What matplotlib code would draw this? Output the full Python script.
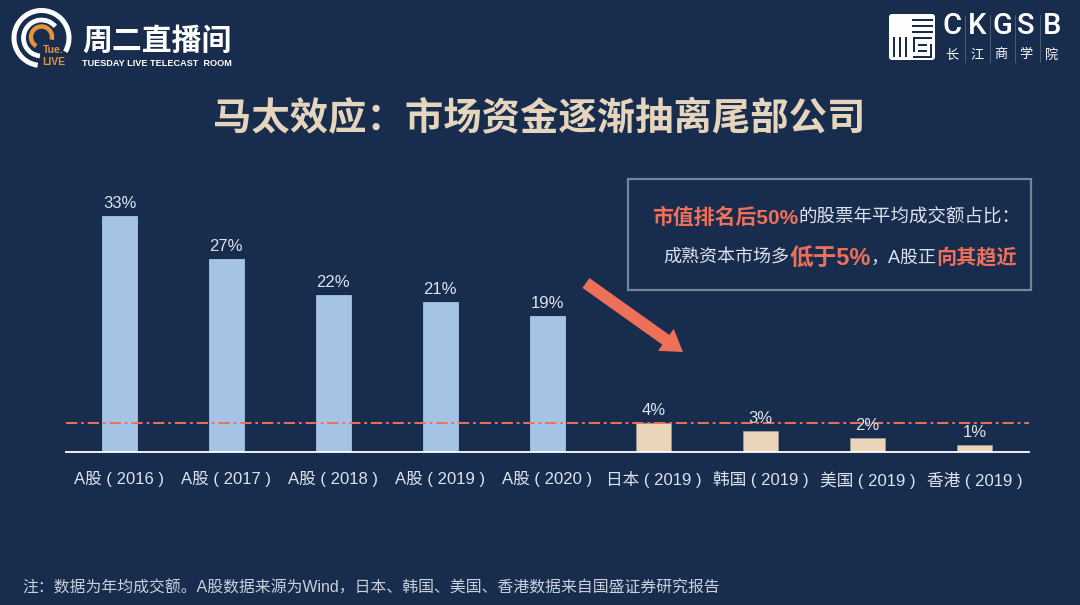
#!/usr/bin/env python3
import matplotlib
matplotlib.use("Agg")
import matplotlib.pyplot as plt
from matplotlib.patches import Arc, FancyArrow, FancyBboxPatch, Rectangle

plt.rcParams['font.family'] = ['Liberation Sans', 'Noto Sans CJK SC', 'DejaVu Sans']

W, H = 1080, 605
BG = "#182C4E"
ORANGE = "#EF7059"
LIGHT = "#DCE3EC"

# chart data
markets = ["A股 ( 2016 )", "A股 ( 2017 )", "A股 ( 2018 )", "A股 ( 2019 )", "A股 ( 2020 )",
           "日本 ( 2019 )", "韩国 ( 2019 )", "美国 ( 2019 )", "香港 ( 2019 )"]
shares = [33, 27, 22, 21, 19, 4, 3, 2, 1]
bar_colors = ["#A5C3E5"] * 5 + ["#EBD5B9"] * 4
bar_edges = ["#A5C3E5"] * 5 + ["#9A9A98"] * 4
threshold = 4

title = "马太效应：市场资金逐渐抽离尾部公司"
note = "注：数据为年均成交额。A股数据来源为Wind，日本、韩国、美国、香港数据来自国盛证券研究报告"
line1 = [("市值排名后50%", ORANGE, 15, "bold"), ("的股票年平均成交额占比：", LIGHT, 13.3, "normal")]
line2 = [("成熟资本市场多", LIGHT, 13, "normal"), ("低于5%", ORANGE, 17, "bold"),
         ("，A股正", LIGHT, 13, "normal"), ("向其趋近", ORANGE, 14.5, "bold")]

fig = plt.figure(figsize=(W / 100, H / 100), dpi=100, facecolor=BG)

# pixel overlay for logos, title, callout; y runs up so arcs stay simple
ov = fig.add_axes([0, 0, 1, 1], facecolor=BG)
ov.set_xlim(0, W)
ov.set_ylim(0, H)
ov.axis("off")

# bar axes, placed so baseline and bar centres land on the reference pixels
left, right, base, top = 66, 1029, 452, 160
ax = fig.add_axes([left / W, (H - base) / H, (right - left) / W, (base - top) / H])
ax.patch.set_alpha(0)
step = 106.875
ax.set_xlim((left - 119.5) / step, (right - 119.5) / step)
ax.set_ylim(0, (base - top) / 7.15)
x = list(range(len(markets)))
ax.bar(x, shares, width=35 / step, color=bar_colors, edgecolor=bar_edges, linewidth=0.6, zorder=2)
ax.axhline(threshold, color=ORANGE, lw=1.4, linestyle=(0, (5.8, 2.0, 1.4, 2.0)), zorder=3)
for i, v in zip(x, shares):
    ax.text(i, v + 0.7, "%d%%" % v, ha="center", va="bottom", color=LIGHT, fontsize=12, zorder=4)
ax.set_xticks(x)
ax.set_xticklabels(markets, color=LIGHT, fontsize=12)
ax.tick_params(axis="x", length=0, pad=14)
ax.set_yticks([])
for name, s in ax.spines.items():
    s.set_visible(name == "bottom")
ax.spines["bottom"].set_color("white")
ax.spines["bottom"].set_linewidth(1.3)


def px(xp, yp, s, **kw):
    return ov.text(xp, H - yp, s, **kw)


px(539, 120, title, ha="center", va="center", color="#E6D5BD", fontsize=27.6, fontweight="bold")
px(22, 588, note, ha="left", va="center", color="#C9D1DC", fontsize=11.4)

# callout
ov.add_patch(Rectangle((628, H - 290), 403, 111, fill=False, edgecolor="#73879B", lw=1.6))


def draw_runs(x0, yp, runs):
    rend = fig.canvas.get_renderer()
    for s, col, size, weight in runs:
        t = px(x0, yp, s, ha="left", va="center_baseline", color=col, fontsize=size, fontweight=weight)
        x0 = t.get_window_extent(rend).x1


draw_runs(652, 216, line1)
draw_runs(663, 256, line2)

ov.add_patch(FancyArrow(586, H - 283, 97, -69, width=12, head_width=27, head_length=21,
                        length_includes_head=True, facecolor=ORANGE, edgecolor="none"))

# left logo
cx, cy = 41.5, H - 38
ov.add_patch(Arc((cx, cy), 55, 55, theta1=-30, theta2=262, color="white", lw=3.6))
ov.add_patch(Arc((cx, cy), 36, 36, theta1=40, theta2=265, color="white", lw=3.4))
ov.add_patch(Arc((cx, cy + 1), 21, 21, theta1=-15, theta2=240, color="#E3933A", lw=3.2))
px(53, 50, "Tue.", ha="center", va="center", color="#E3933A", fontsize=7.5, fontweight="bold")
px(54, 62, "LIVE", ha="center", va="center", color="#E3933A", fontsize=7.5, fontweight="bold")
px(157, 41, "周二直播间", ha="center", va="center", color="white", fontsize=21.5, fontweight="bold")
px(157, 63, "TUESDAY LIVE TELECAST  ROOM", ha="center", va="center", color="white", fontsize=6.6, fontweight="bold")

# right logo
ov.add_patch(FancyBboxPatch((889, H - 60), 46, 46, boxstyle="round,pad=0,rounding_size=3",
                            facecolor="white", edgecolor="none"))
for yy, x0, x1 in [(20, 912, 933), (26, 912, 933), (32, 912, 933), (38, 913, 932),
                   (45, 918, 927), (51, 918, 927), (57, 913, 932)]:
    ov.add_patch(Rectangle((x0, H - yy - 1), x1 - x0, 2, facecolor=BG, edgecolor="none"))
for xx in [893, 899, 905]:
    ov.add_patch(Rectangle((xx, H - 57), 2, 20, facecolor=BG, edgecolor="none"))
ov.add_patch(Rectangle((913, H - 52), 2, 14, facecolor=BG, edgecolor="none"))
ov.add_patch(Rectangle((930, H - 57), 2, 13, facecolor=BG, edgecolor="none"))
for xx, ch in zip([952, 977, 1002, 1026, 1052], "CKGSB"):
    px(xx, 26, ch, ha="center", va="center", color="white", fontsize=21, fontweight="medium", fontfamily="Roboto")
for xx, ch in zip([952, 977, 1001, 1026, 1052], "长江商学院"):
    px(xx, 55, ch, ha="center", va="center", color="white", fontsize=9.5)
for xx in [965, 990, 1015, 1040]:
    ov.plot([xx, xx], [H - 62, H - 15], color="#55657F", lw=0.6)

fig.savefig("out.png", dpi=100, facecolor=BG)
